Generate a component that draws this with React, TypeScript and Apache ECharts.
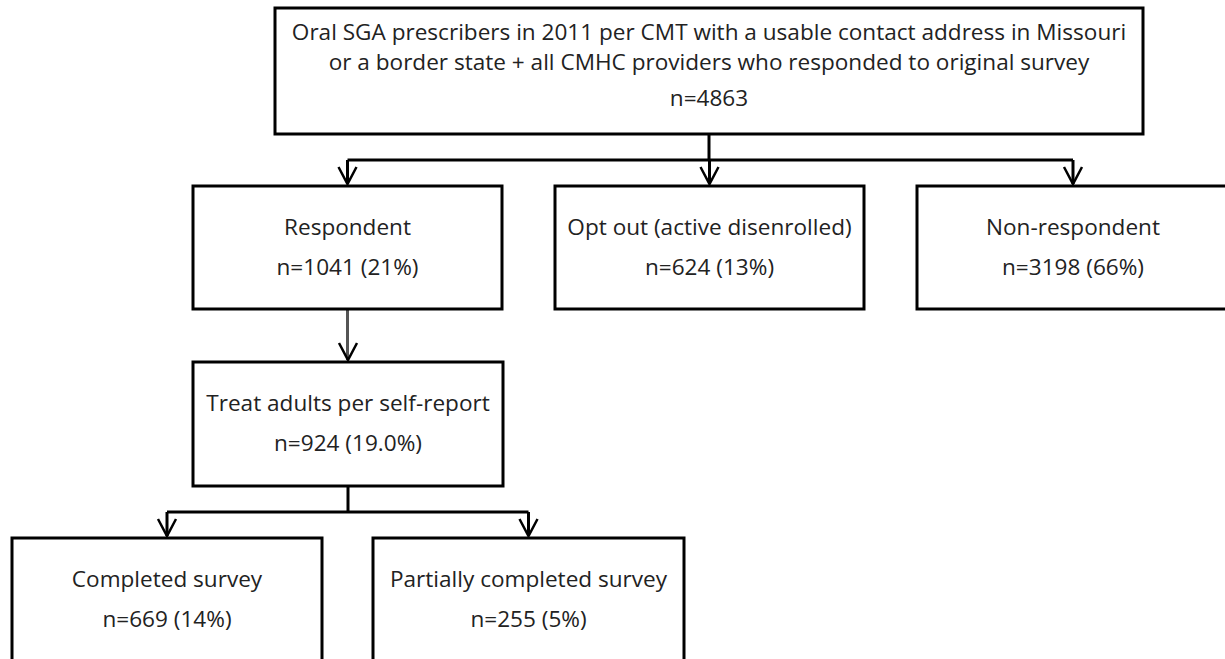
import React, { useEffect, useRef } from "react";
import * as echarts from "echarts";

// ---- data ----
const topLines = [
  "Oral SGA prescribers in 2011 per CMT with a usable contact address in Missouri",
  "or a border state + all CMHC providers who responded to original survey",
];
const nodeLabels = [
  "",
  "Respondent",
  "Opt out (active disenrolled)",
  "Non-respondent",
  "Treat adults per self-report",
  "Completed survey",
  "Partially completed survey",
];
const nodeCounts = [4863, 1041, 624, 3198, 924, 669, 255];
const nodePercents = ["", "21%", "13%", "66%", "19.0%", "14%", "5%"];
// edges: [from, to]
const edges: [number, number][] = [
  [0, 1],
  [0, 2],
  [0, 3],
  [1, 4],
  [4, 5],
  [4, 6],
];

// ---- layout (positions only) ----
const boxes = [
  { x: 275, y: 8, w: 868, h: 126 },
  { x: 193, y: 186, w: 309, h: 123 },
  { x: 555, y: 186, w: 309, h: 123 },
  { x: 917, y: 186, w: 312, h: 123 },
  { x: 193, y: 362, w: 310, h: 124 },
  { x: 12, y: 538, w: 310, h: 140 },
  { x: 373, y: 538, w: 311, h: 140 },
];
const textFont = "'Open Sans', 'Liberation Sans', sans-serif";
const textColor = "#222";
const fontSize = 21;
const stretch = 1.075;

function countText(i: number) {
  return nodePercents[i] ? `n=${nodeCounts[i]} (${nodePercents[i]})` : `n=${nodeCounts[i]}`;
}

function textEl(text: string, x: number, y: number) {
  return {
    type: "text",
    x,
    y,
    scaleX: stretch,
    z: 2,
    style: {
      text,
      fontSize,
      fontFamily: textFont,
      fill: textColor,
      align: "center",
      verticalAlign: "middle",
    },
  };
}

export default function App() {
  const ref = useRef<HTMLDivElement>(null);
  useEffect(() => {
    if (!ref.current) return;
    const chart = echarts.init(ref.current, null, { renderer: "svg" });
    const els: any[] = [];
    const lw = 3;

    // boxes
    boxes.forEach((b, i) => {
      els.push({
        type: "rect",
        shape: { x: b.x, y: b.y, width: b.w, height: b.h },
        style: { fill: "#fff", stroke: "#000", lineWidth: lw },
        z: 1,
      });
      const cx = b.x + b.w / 2;
      if (i === 0) {
        els.push(textEl(topLines[0], cx, 32));
        els.push(textEl(topLines[1], cx, 62));
        els.push(textEl(countText(0), cx, 98));
      } else {
        const y1 = b.y + 41;
        els.push(textEl(nodeLabels[i], cx, y1));
        els.push(textEl(countText(i), cx, y1 + 40));
      }
    });

    // connectors: group edges by parent
    const parents = Array.from(new Set(edges.map((e) => e[0])));
    parents.forEach((p) => {
      const pb = boxes[p];
      const px = pb.x + pb.w / 2;
      const kids = edges.filter((e) => e[0] === p).map((e) => e[1]);
      const bottom = pb.y + pb.h;
      const color = p === 1 ? "#555" : "#000";
      if (kids.length === 1) {
        const kb = boxes[kids[0]];
        els.push({
          type: "line",
          shape: { x1: px, y1: bottom, x2: px, y2: kb.y - 2 },
          style: { stroke: color, lineWidth: lw },
          z: 0,
        });
      } else {
        const kidTop = Math.min(...kids.map((k) => boxes[k].y));
        const midY = Math.round((bottom + kidTop) / 2);
        const xs = kids.map((k) => boxes[k].x + boxes[k].w / 2);
        els.push({
          type: "line",
          shape: { x1: px, y1: bottom, x2: px, y2: midY },
          style: { stroke: color, lineWidth: lw },
          z: 0,
        });
        els.push({
          type: "line",
          shape: { x1: Math.min(...xs), y1: midY, x2: Math.max(...xs), y2: midY },
          style: { stroke: color, lineWidth: lw },
          z: 0,
        });
        kids.forEach((k) => {
          const kx = boxes[k].x + boxes[k].w / 2;
          els.push({
            type: "line",
            shape: { x1: kx, y1: midY, x2: kx, y2: boxes[k].y - 2 },
            style: { stroke: color, lineWidth: lw },
            z: 0,
          });
        });
      }
      kids.forEach((k) => {
        const kx = boxes[k].x + boxes[k].w / 2;
        const ty = boxes[k].y - 2;
        els.push({
          type: "polyline",
          shape: {
            points: [
              [kx - 9, ty - 17],
              [kx, ty],
              [kx + 9, ty - 17],
            ],
          },
          style: { stroke: "#000", lineWidth: 2.5, fill: null },
          z: 2,
        });
      });
    });

    chart.setOption({
      animation: false,
      backgroundColor: "#fff",
      graphic: { elements: els },
    });
    return () => chart.dispose();
  }, []);
  return (
    <div
      ref={ref}
      style={{ position: "fixed", left: 0, top: 0, width: 1225, height: 659, background: "#fff" }}
    />
  );
}
